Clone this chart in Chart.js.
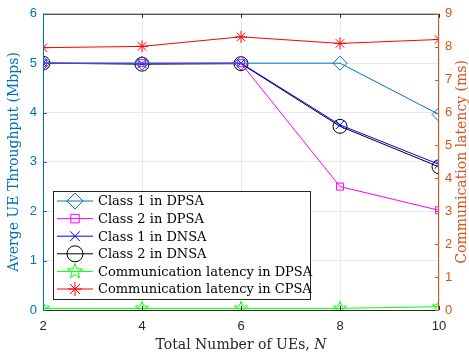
<!DOCTYPE html>
<html>
<head>
<meta charset="utf-8">
<script src="https://cdn.jsdelivr.net/npm/chart.js@4"></script>
<style>
  html, body { margin: 0; padding: 0; background: #fff; }
  #wrap { width: 469px; height: 354px; }
</style>
</head>
<body>
<div id="wrap"><canvas id="chart" width="469" height="354"></canvas></div>
<script>
// Data
const ueCounts = [2, 4, 6, 8, 10];
const class1Dpsa = [5.0, 5.0, 5.0, 5.0, 3.96];
const class2Dpsa = [5.0, 5.0, 5.0, 2.5, 2.02];
const class1Dnsa = [5.0, 4.99, 5.0, 3.75, 2.95];
const class2Dnsa = [5.0, 4.98, 4.99, 3.72, 2.9];
const latencyDpsa = [0.05, 0.05, 0.05, 0.05, 0.1];
const latencyCpsa = [7.97, 8.01, 8.3, 8.1, 8.22];
const leftTicks = [0, 1, 2, 3, 4, 5, 6];
const rightTicks = [0, 1, 2, 3, 4, 5, 6, 7, 8, 9];

const BLUE = '#0072BD';
const ORANGE = '#D95319';
const SERIF = '"DejaVu Serif", "Liberation Serif", serif';
const SANS = '"Liberation Sans", Arial, sans-serif';

// Pentagram marker
function makeStar(r, color) {
    const c = document.createElement('canvas');
    const s = r * 2 + 4;
    c.width = s; c.height = s;
    const g = c.getContext('2d');
    drawPentagram(g, s / 2, s / 2, r, color);
    return c;
}
function drawPentagram(g, cx, cy, r, color) {
    g.beginPath();
    for (let i = 0; i < 10; i++) {
        const rad = i % 2 === 0 ? r : r * 0.4;
        const a = -Math.PI / 2 + i * Math.PI / 5;
        const px = cx + rad * Math.cos(a), py = cy + rad * Math.sin(a);
        if (i === 0) g.moveTo(px, py); else g.lineTo(px, py);
    }
    g.closePath();
    g.strokeStyle = color;
    g.lineWidth = 1;
    g.stroke();
}
const greenStar = makeStar(7, '#00FF00');

function toXY(vals) {
    return vals.map((v, i) => ({ x: ueCounts[i], y: v }));
}

const series = [
    { label: 'Class 1 in DPSA', data: class1Dpsa, color: BLUE, style: 'rectRot', r: 7, axis: 'y' },
    { label: 'Class 2 in DPSA', data: class2Dpsa, color: '#FF00FF', style: 'rect', r: 5, axis: 'y' },
    { label: 'Class 1 in DNSA', data: class1Dnsa, color: '#0000FF', style: 'crossRot', r: 6, axis: 'y' },
    { label: 'Class 2 in DNSA', data: class2Dnsa, color: '#000000', style: 'circle', r: 7, axis: 'y' },
    { label: 'Communication latency in DPSA', data: latencyDpsa, color: '#00FF00', style: greenStar, r: 7, axis: 'y1' },
    { label: 'Communication latency in CPSA', data: latencyCpsa, color: '#FF0000', style: 'star', r: 6, axis: 'y1' }
];

// Frame, inward ticks, axis titles, legend box
const framePlugin = {
    id: 'frame',
    afterDraw(chart) {
        const { ctx, chartArea: a, scales } = chart;
        ctx.save();
        ctx.lineWidth = 1;
        ctx.strokeStyle = '#262626';
        ctx.beginPath();
        ctx.moveTo(a.left, a.top + 0.5); ctx.lineTo(a.right, a.top + 0.5);
        ctx.moveTo(a.left, a.bottom + 0.5); ctx.lineTo(a.right, a.bottom + 0.5);
        ctx.stroke();
        ueCounts.forEach(v => {
            const px = Math.round(scales.x.getPixelForValue(v)) + 0.5;
            ctx.beginPath();
            ctx.moveTo(px, a.bottom); ctx.lineTo(px, a.bottom - 4);
            ctx.moveTo(px, a.top); ctx.lineTo(px, a.top + 4);
            ctx.stroke();
        });
        // left axis
        ctx.strokeStyle = BLUE;
        ctx.beginPath();
        ctx.moveTo(a.left + 0.5, a.top); ctx.lineTo(a.left + 0.5, a.bottom);
        leftTicks.forEach(v => {
            const py = Math.round(scales.y.getPixelForValue(v)) + 0.5;
            ctx.moveTo(a.left, py); ctx.lineTo(a.left + 4, py);
        });
        ctx.stroke();
        // right axis
        ctx.strokeStyle = ORANGE;
        ctx.beginPath();
        ctx.moveTo(a.right - 0.5, a.top); ctx.lineTo(a.right - 0.5, a.bottom);
        rightTicks.forEach(v => {
            const py = Math.round(scales.y1.getPixelForValue(v)) + 0.5;
            ctx.moveTo(a.right, py); ctx.lineTo(a.right - 4, py);
        });
        ctx.stroke();

        // axis titles
        const midY = (a.top + a.bottom) / 2;
        ctx.font = '14px ' + SERIF;
        ctx.textAlign = 'center';
        ctx.textBaseline = 'middle';
        ctx.fillStyle = BLUE;
        ctx.save();
        ctx.translate(14, midY);
        ctx.rotate(-Math.PI / 2);
        ctx.fillText('Averge UE Throughput (Mbps)', 0, 0);
        ctx.restore();
        ctx.fillStyle = ORANGE;
        ctx.save();
        ctx.translate(462, midY);
        ctx.rotate(-Math.PI / 2);
        ctx.fillText('Communication latency (ms)', 0, 0);
        ctx.restore();

        ctx.textAlign = 'left';
        ctx.fillStyle = '#262626';
        ctx.textBaseline = 'alphabetic';
        const t1 = 'Total Number of UEs, ';
        ctx.font = '14px ' + SERIF;
        const w1 = ctx.measureText(t1).width;
        ctx.font = 'italic 14px ' + SERIF;
        const w2 = ctx.measureText('N').width;
        const sx = (a.left + a.right) / 2 - (w1 + w2) / 2;
        ctx.font = '14px ' + SERIF;
        ctx.fillText(t1, sx, 349);
        ctx.font = 'italic 14px ' + SERIF;
        ctx.fillText('N', sx + w1, 349);

        // legend
        const bx = 53, by = 191, bw = 257, bh = 108, rowH = 17.6;
        ctx.fillStyle = '#fff';
        ctx.fillRect(bx, by, bw, bh);
        ctx.strokeStyle = '#262626';
        ctx.lineWidth = 1;
        ctx.strokeRect(bx + 0.5, by + 0.5, bw, bh);
        ctx.font = '13px ' + SERIF;
        ctx.textBaseline = 'middle';
        series.forEach((s, i) => {
            const y = by + 10 + i * rowH;
            ctx.strokeStyle = s.color;
            ctx.lineWidth = 1;
            ctx.beginPath();
            ctx.moveTo(bx + 4, y); ctx.lineTo(bx + 40, y);
            ctx.stroke();
            if (s.style === greenStar) {
                drawPentagram(ctx, bx + 22, y, 8, s.color);
            } else {
                ctx.fillStyle = 'rgba(0,0,0,0)';
                Chart.helpers.drawPoint(ctx, {
                    pointStyle: s.style, radius: s.r + 1, rotation: 0, borderWidth: 1
                }, bx + 22, y);
            }
            ctx.fillStyle = '#000';
            ctx.fillText(s.label, bx + 45, y + 1);
        });
        ctx.restore();
    }
};

const datasets = series.map(s => ({
    label: s.label,
    data: toXY(s.data),
    yAxisID: s.axis,
    borderColor: s.color,
    backgroundColor: 'rgba(0,0,0,0)',
    borderWidth: 1,
    pointStyle: s.style,
    pointRadius: s.r,
    pointBorderColor: s.color,
    pointBorderWidth: 1,
    pointBackgroundColor: 'rgba(0,0,0,0)',
    tension: 0
}));

new Chart(document.getElementById('chart').getContext('2d'), {
    type: 'line',
    data: { datasets },
    plugins: [framePlugin],
    options: {
        responsive: false,
        animation: false,
        layout: { padding: { top: 12, right: 0, left: 0, bottom: 0 } },
        plugins: { legend: { display: false }, tooltip: { enabled: false } },
        scales: {
            x: {
                type: 'linear', min: 2, max: 10,
                afterFit: s => { s.height = 44; },
                border: { display: false },
                grid: { color: '#e8ecf0', drawTicks: false },
                ticks: { stepSize: 2, padding: 9, color: '#262626', font: { family: SANS, size: 13 } }
            },
            y: {
                position: 'left', min: 0, max: 6,
                afterFit: s => { s.width = 43; },
                border: { display: false },
                grid: { color: '#e3eaf2', drawTicks: false },
                ticks: { stepSize: 1, padding: 6, color: BLUE, font: { family: SANS, size: 13 } }
            },
            y1: {
                position: 'right', min: 0, max: 9,
                afterFit: s => { s.width = 30; },
                border: { display: false },
                grid: { display: false, drawTicks: false },
                ticks: { stepSize: 1, padding: 6, color: ORANGE, font: { family: SANS, size: 13 } }
            }
        }
    }
});
</script>
</body>
</html>
